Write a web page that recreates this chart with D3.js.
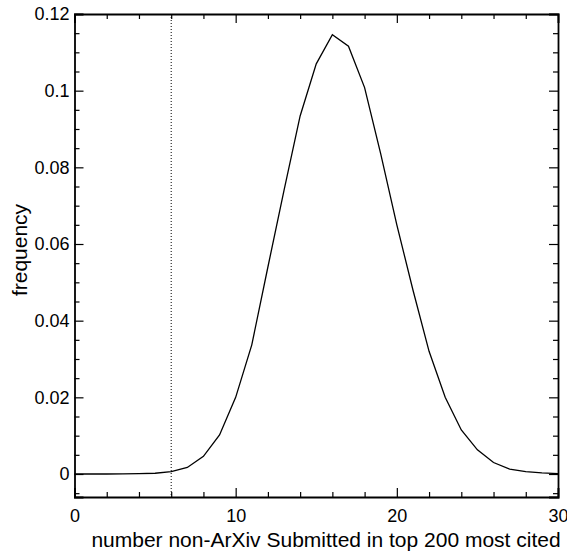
<!DOCTYPE html>
<html>
<head>
<meta charset="utf-8">
<script src="https://cdn.jsdelivr.net/npm/d3@7"></script>
<style>
  body { margin: 0; background: #fff; }
  svg { display: block; }
  text { font-family: "Liberation Sans", Arial, Helvetica, sans-serif; fill: #000; }
  .axis path { stroke: #000; stroke-width: 1.8; }
  .axis line { stroke: #000; stroke-width: 1.2; }
  .axis text { font-size: 18px; }
</style>
</head>
<body>
<svg width="567" height="552"></svg>
<script>
// number of non-ArXiv papers in the top 200 (x) and their frequency (y)
const counts = d3.range(0, 31);
const frequency = [0, 0, 0, 0.00003, 0.0001, 0.0002, 0.0006, 0.0017, 0.0046, 0.0102,
                   0.0200, 0.0337, 0.0540, 0.0740, 0.0934, 0.1070, 0.1146, 0.1116, 0.1008, 0.0835,
                   0.0650, 0.0480, 0.0320, 0.0200, 0.0115, 0.0063, 0.0030, 0.0013, 0.0006, 0.0003,
                   0.0001];
const observed = 6;
const xTicks = [0, 10, 20, 30];
const yTicks = [0, 0.02, 0.04, 0.06, 0.08, 0.1, 0.12];
const xLabel = "number non-ArXiv Submitted in top 200 most cited";
const yLabel = "frequency";

const svg = d3.select("svg");
const plotL = 74.5, plotR = 558, plotT = 14, plotB = 497;

const x = d3.scaleLinear().domain([0, 30]).range([plotL, plotR]);
const y = d3.scaleLinear().domain([-0.006, 0.12]).range([plotB, plotT]);

const xMinor = d3.range(0, 31, 2).filter(d => !xTicks.includes(d));
const yMinor = d3.range(-0.005, 0.1201, 0.005).map(d => +d.toFixed(3))
    .filter(d => !yTicks.some(t => Math.abs(t - d) < 1e-9));

const yFmt = d => d === 0 ? "0" : d3.format("")(+d.toFixed(2));

// major ticks with labels
svg.append("g").attr("class", "axis")
    .attr("transform", `translate(0,${plotB})`)
    .call(d3.axisBottom(x).tickValues(xTicks).tickSize(-9).tickPadding(12).tickFormat(d3.format("d")))
    .call(g => g.selectAll("text").attr("dy", "0.71em"));

svg.append("g").attr("class", "axis")
    .attr("transform", `translate(0,${plotT})`)
    .call(d3.axisTop(x).tickValues(xTicks).tickSize(-9).tickFormat(""));

svg.append("g").attr("class", "axis")
    .attr("transform", `translate(${plotL},0)`)
    .call(d3.axisLeft(y).tickValues(yTicks).tickSize(-9).tickPadding(5).tickFormat(yFmt));

svg.append("g").attr("class", "axis")
    .attr("transform", `translate(${plotR},0)`)
    .call(d3.axisRight(y).tickValues(yTicks).tickSize(-9).tickFormat(""));

// minor ticks
svg.append("g").attr("class", "axis")
    .attr("transform", `translate(0,${plotB})`)
    .call(d3.axisBottom(x).tickValues(xMinor).tickSize(-5).tickFormat(""))
    .call(g => g.select(".domain").remove());
svg.append("g").attr("class", "axis")
    .attr("transform", `translate(0,${plotT})`)
    .call(d3.axisTop(x).tickValues(xMinor).tickSize(-5).tickFormat(""))
    .call(g => g.select(".domain").remove());
svg.append("g").attr("class", "axis")
    .attr("transform", `translate(${plotL},0)`)
    .call(d3.axisLeft(y).tickValues(yMinor).tickSize(-5).tickFormat(""))
    .call(g => g.select(".domain").remove());
svg.append("g").attr("class", "axis")
    .attr("transform", `translate(${plotR},0)`)
    .call(d3.axisRight(y).tickValues(yMinor).tickSize(-5).tickFormat(""))
    .call(g => g.select(".domain").remove());

// observed value, dotted
svg.append("line")
    .attr("x1", x(observed)).attr("x2", x(observed))
    .attr("y1", y(0.12)).attr("y2", y(-0.006))
    .attr("stroke", "#000")
    .attr("stroke-width", 1)
    .attr("stroke-dasharray", "1,2");

const line = d3.line()
    .x((d, i) => x(counts[i]))
    .y(d => y(d));

svg.append("path")
    .datum(frequency)
    .attr("fill", "none")
    .attr("stroke", "#000")
    .attr("stroke-width", 1.3)
    .attr("d", line);

svg.append("text")
    .attr("x", 326)
    .attr("y", 547)
    .attr("text-anchor", "middle")
    .style("font-size", "21px")
    .text(xLabel);

svg.append("text")
    .attr("transform", "translate(27,250) rotate(-90)")
    .attr("text-anchor", "middle")
    .style("font-size", "21px")
    .text(yLabel);
</script>
</body>
</html>
